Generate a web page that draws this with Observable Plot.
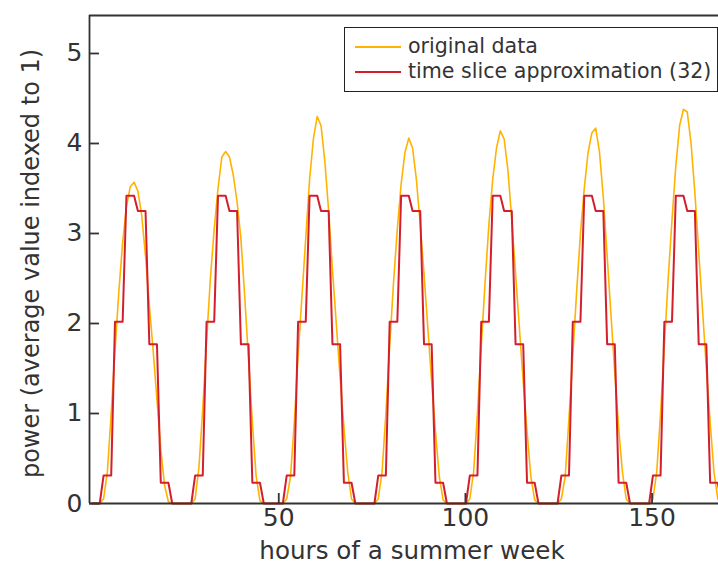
<!DOCTYPE html>
<html>
<head>
<meta charset="utf-8">
<script src="https://cdn.jsdelivr.net/npm/d3@7"></script>
<script src="https://cdn.jsdelivr.net/npm/@observablehq/plot@0.6"></script>
<style>
  body { margin: 0; background: #fff; }
  #wrap { position: relative; width: 718px; height: 568px; overflow: hidden; font-family: "DejaVu Sans", sans-serif; }
  #legend { position: absolute; left: 344px; top: 27px; width: 374px; height: 65px; border: 1.6px solid #222; box-sizing: border-box; background: #fff; }
  .row { position: absolute; left: 0; height: 25px; white-space: nowrap; }
  .sw { position: absolute; left: 10px; width: 46px; height: 2.4px; }
  .lab { position: absolute; left: 63px; font-size: 20.6px; color: #333; line-height: 25px; }
</style>
</head>
<body>
<div id="wrap"></div>
<script>
// Original hourly data, one array per day (hour 0..23)
const origDay1 = [0,0,0,0.05,0.35,1.0,1.7,2.35,2.9,3.3,3.52,3.57,3.47,3.2,2.75,2.2,1.7,1.15,0.6,0.2,0.02,0,0,0];
const origDay2 = [0,0,0,0.05,0.4,1.05,1.8,2.5,3.05,3.5,3.85,3.91,3.85,3.65,3.35,2.95,2.3,1.6,0.9,0.3,0.03,0,0,0];
const origDay3 = [0,0,0,0.05,0.3,0.9,1.65,2.3,2.95,3.6,4.05,4.3,4.2,3.8,3.25,2.6,2.0,1.4,0.85,0.35,0.05,0,0,0];
const origDay4 = [0,0,0,0.05,0.35,1.0,1.75,2.45,3.05,3.55,3.9,4.06,3.95,3.6,3.1,2.55,1.95,1.35,0.8,0.3,0.04,0,0,0];
const origDay5 = [0,0,0,0.05,0.35,1.0,1.75,2.45,3.1,3.6,3.95,4.14,4.05,3.7,3.15,2.55,1.95,1.35,0.8,0.3,0.04,0,0,0];
const origDay6 = [0,0,0,0.05,0.3,0.95,1.65,2.35,3.0,3.5,3.9,4.12,4.17,3.9,3.4,2.75,2.1,1.45,0.85,0.35,0.05,0,0,0];
const origDay7 = [0,0,0,0.05,0.35,1.0,1.75,2.5,3.15,3.75,4.2,4.38,4.35,4.0,3.45,2.8,2.15,1.5,0.9,0.35,0.05,0,0,0];

// Time slice approximation: daily slices (start hour) and their values
const sliceStartHours = [0, 3, 6, 9, 12, 15, 18, 21];
const sliceValues = [0, 0.31, 2.02, 3.42, 3.25, 1.77, 0.23, 0];

// Axis ticks
const xTicks = [50, 100, 150];
const yTicks = [0, 1, 2, 3, 4, 5];

// Spacing of the hourly samples along the drawn hour axis
const hoursPerSample = 1.022;

const orig = [origDay1, origDay2, origDay3, origDay4, origDay5, origDay6, origDay7].flat()
  .map((v, i) => ({x: i * hoursPerSample, y: v}));
const approx = orig.map((d, i) => {
  const h = i % 24;
  let k = 0;
  for (let j = 0; j < sliceStartHours.length; j++) if (h >= sliceStartHours[j]) k = j;
  return {x: d.x, y: sliceValues[k]};
});

const xMin = -0.7, xMax = 167.8, yMax = 5.422;
const ink = "#333";
const font = "'DejaVu Sans', sans-serif";
// inward tick length (10px) expressed in data units
const xTickLen = yMax * 10 / 488;
const yTickLen = (xMax - xMin) * 10 / 629;

const chart = Plot.plot({
  width: 718, height: 568,
  marginLeft: 89, marginRight: 0, marginTop: 15, marginBottom: 65,
  style: {fontFamily: font, color: ink, background: "#fff"},
  x: {domain: [xMin, xMax]},
  y: {domain: [0, yMax]},
  marks: [
    Plot.lineY(orig, {x: "x", y: "y", stroke: "#ffb300", strokeWidth: 1.6}),
    Plot.lineY(approx, {x: "x", y: "y", stroke: "#d21f2d", strokeWidth: 2}),
    Plot.ruleY([0, yMax], {stroke: ink, strokeWidth: 1.8}),
    Plot.ruleX([xMin], {stroke: ink, strokeWidth: 1.8}),
    Plot.ruleX(xTicks, {y1: 0, y2: xTickLen, stroke: ink, strokeWidth: 1.8}),
    Plot.ruleY(yTicks, {x1: xMin, x2: xMin + yTickLen, stroke: ink, strokeWidth: 1.8}),
    Plot.axisX(xTicks, {tickSize: 0, tickPadding: 5, fontSize: 25, fill: ink, label: null, tickFormat: d3.format("d")}),
    Plot.axisY(yTicks, {tickSize: 0, tickPadding: 7, fontSize: 25, fill: ink, label: null, tickFormat: d3.format("d")}),
    Plot.text(["hours of a summer week"], {frameAnchor: "bottom", text: d => d, textAnchor: "middle", dx: 8, dy: 55, fontSize: 24.6, fill: ink}),
    Plot.text(["power (average value indexed to 1)"], {frameAnchor: "left", text: d => d, textAnchor: "middle", rotate: -90, dx: -58, dy: 4, fontSize: 24, fill: ink})
  ]
});

const wrap = document.getElementById("wrap");
wrap.appendChild(chart);

const legendItems = [
  {label: "original data", color: "#ffb300"},
  {label: "time slice approximation (32)", color: "#d21f2d"}
];
const legend = document.createElement("div");
legend.id = "legend";
legendItems.forEach((it, i) => {
  const row = document.createElement("div");
  row.className = "row";
  row.style.top = (6 + i * 25) + "px";
  const sw = document.createElement("div");
  sw.className = "sw";
  sw.style.background = it.color;
  sw.style.top = "12px";
  const lab = document.createElement("div");
  lab.className = "lab";
  lab.textContent = it.label;
  row.appendChild(sw);
  row.appendChild(lab);
  legend.appendChild(row);
});
wrap.appendChild(legend);
</script>
</body>
</html>
